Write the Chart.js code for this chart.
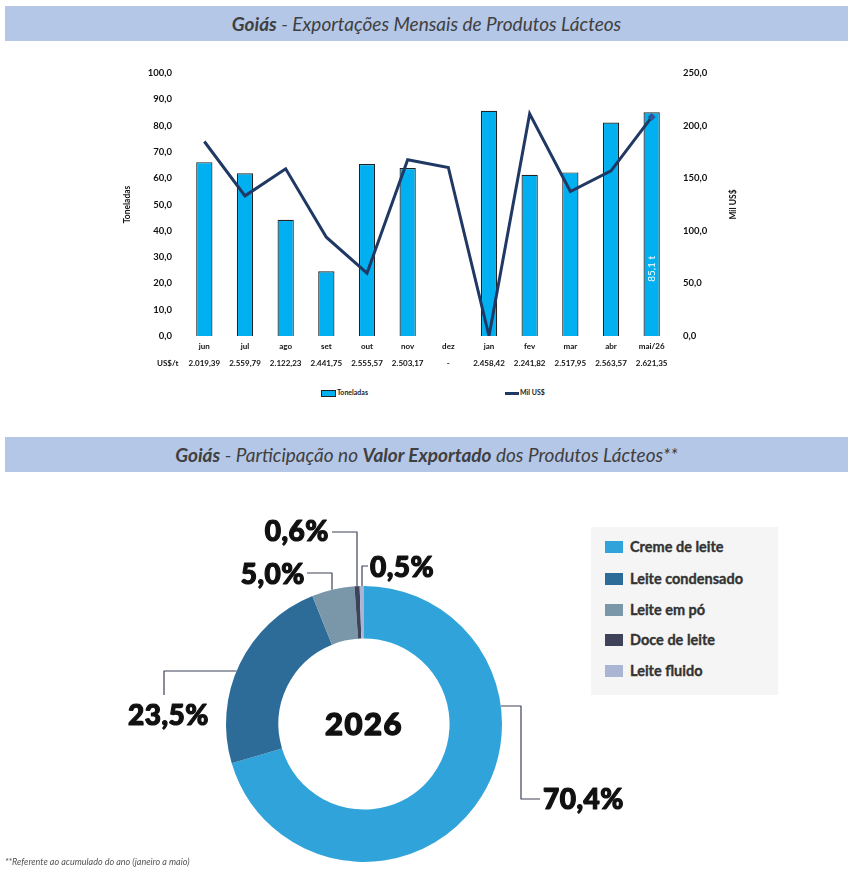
<!DOCTYPE html>
<html>
<head>
<meta charset="utf-8">
<script src="https://cdn.jsdelivr.net/npm/chart.js@4.4.1/dist/chart.umd.min.js"></script>
<style>
  body { margin: 0; background: #fff; width: 852px; height: 871px; position: relative; overflow: hidden; font-family: Lato, sans-serif; }
  .band { position: absolute; left: 5px; width: 843px; height: 35px; background: #b4c7e7; color: #404040;
          font-style: italic; font-size: 19px; line-height: 35px; text-align: center; }
  .band b { font-weight: 700; }
  #bar { position: absolute; left: 100px; top: 55px; }
  #pie { position: absolute; left: 0; top: 480px; }
  .lg { position: absolute; top: 388px; font: bold 7px Lato, sans-serif; color: #222; }
  .lg span { display: inline-block; vertical-align: middle; margin-right: 1px; }
  #legend { position: absolute; left: 591px; top: 527px; width: 187px; height: 168px; background: #f5f5f5; }
  #legend div { position: absolute; left: 14px; font: bold 14.5px Lato, sans-serif; color: #333; height: 16px; line-height: 16px;
                -webkit-text-stroke: 0.35px #333; }
  #legend i { display: inline-block; width: 18px; height: 12px; margin-right: 7px; vertical-align: -1px; }
  .note { position: absolute; left: 5px; top: 856px; font: italic 9px Lato, sans-serif; color: #555; }
</style>
</head>
<body>
<div class="band" style="top:6px"><b>Goiás</b> - Exportações Mensais de Produtos Lácteos</div>
<canvas id="bar" width="680" height="330"></canvas>
<div class="lg" style="left:321px"><span style="width:13px;height:5px;background:#00b0f0;border:1px solid #222"></span>Toneladas</div>
<div class="lg" style="left:505px"><span style="width:14px;height:3px;background:#203864"></span>Mil US$</div>

<div class="band" style="top:437px"><b>Goiás</b> - Participação no <b>Valor Exportado</b> dos Produtos Lácteos**</div>
<canvas id="pie" width="852" height="391"></canvas>
<div id="legend"></div>
<div class="note">**Referente ao acumulado do ano (janeiro a maio)</div>

<script>
// Dados - exportações mensais
const months = ['jun', 'jul', 'ago', 'set', 'out', 'nov', 'dez', 'jan', 'fev', 'mar', 'abr', 'mai/26'];
const pricePerTon = ['2.019,39', '2.559,79', '2.122,23', '2.441,75', '2.555,57', '2.503,17', '-', '2.458,42', '2.241,82', '2.517,95', '2.563,57', '2.621,35'];
const tonnes = [66.1, 61.9, 44.2, 24.6, 65.4, 63.9, null, 85.6, 61.3, 62.2, 81.2, 85.1];
const milUSD = [184.9, 133.2, 158.9, 93.9, 59.7, 167.5, 160.2, 0, 211.3, 137.3, 157.0, 208.1];

// Dados - participação no valor exportado
const products = ['Creme de leite', 'Leite condensado', 'Leite em pó', 'Doce de leite', 'Leite fluido'];
const shares = [70.4, 23.5, 5.0, 0.6, 0.5];
const productColors = ['#30a3da', '#2d6c98', '#7a97aa', '#3e4359', '#aab5d4'];

const fmt = v => v.toFixed(1).replace('.', ',');

// Títulos dos eixos, linha US$/t e rótulo da última barra
const barExtras = {
    id: 'barExtras',
    afterDraw(chart) {
        const ctx = chart.ctx;
        const area = chart.chartArea;
        ctx.save();
        ctx.fillStyle = '#111';
        ctx.font = 'bold 8.5px Lato, sans-serif';
        ctx.textAlign = 'center';
        ctx.textBaseline = 'middle';
        ctx.save();
        ctx.translate(27, (area.top + area.bottom) / 2);
        ctx.rotate(-Math.PI / 2);
        ctx.fillText('Toneladas', 0, 0);
        ctx.restore();
        ctx.save();
        ctx.translate(633, (area.top + area.bottom) / 2);
        ctx.rotate(-Math.PI / 2);
        ctx.fillText('Mil US$', 0, 0);
        ctx.restore();
        ctx.textAlign = 'left';
        ctx.font = 'bold 8px Lato, sans-serif';
        ctx.fillText('US$/t', 57, area.bottom + 27);

        const meta = chart.getDatasetMeta(0);
        const last = meta.data[tonnes.length - 1];
        const y = last.y + (last.base - last.y) * 0.7;
        ctx.translate(last.x, y);
        ctx.rotate(-Math.PI / 2);
        ctx.fillStyle = '#fff';
        ctx.font = '10px Lato, sans-serif';
        ctx.textAlign = 'center';
        ctx.fillText(fmt(tonnes[tonnes.length - 1]) + ' t', 0, 0);
        ctx.restore();
    }
};

new Chart(document.getElementById('bar').getContext('2d'), {
    data: {
        labels: months.map((m, i) => [m, pricePerTon[i]]),
        datasets: [
            {
                type: 'bar',
                label: 'Toneladas',
                data: tonnes,
                backgroundColor: '#00b0f0',
                borderColor: '#222',
                borderWidth: 1.2,
                barPercentage: 0.4,
                categoryPercentage: 1,
                yAxisID: 'y',
                order: 1,
            },
            {
                type: 'line',
                label: 'Mil US$',
                data: milUSD,
                borderColor: '#203864',
                borderWidth: 3,
                tension: 0,
                pointRadius: milUSD.map((v, i) => i === milUSD.length - 1 ? 4 : 0),
                pointStyle: 'rectRot',
                pointBackgroundColor: '#2f5597',
                pointBorderWidth: 0,
                yAxisID: 'y1',
                order: 0,
            }
        ],
    },
    options: {
        responsive: false,
        animation: false,
        layout: { padding: { top: 18, left: 0, right: 0, bottom: 0 } },
        plugins: { legend: { display: false }, tooltip: { enabled: false } },
        scales: {
            x: {
                grid: { display: false, drawTicks: false },
                border: { display: false },
                ticks: { color: '#111', font: { size: 8, weight: 'bold', family: 'Lato', lineHeight: 2.1 }, padding: 2, maxRotation: 0, autoSkip: false },
                afterFit: s => { s.height = 49; },
            },
            y: {
                position: 'left',
                min: 0, max: 100,
                grid: { display: false, drawTicks: false },
                border: { display: false },
                ticks: { stepSize: 10, color: '#111', font: { size: 9.5, weight: 'bold', family: 'Lato' }, padding: 12, callback: v => fmt(v) },
                afterFit: s => { s.width = 84; },
            },
            y1: {
                position: 'right',
                min: 0, max: 250,
                grid: { display: false, drawTicks: false },
                border: { display: false },
                ticks: { stepSize: 50, color: '#111', font: { size: 9.5, weight: 'bold', family: 'Lato' }, padding: 11, callback: v => fmt(v) },
                afterFit: s => { s.width = 108; },
            },
        },
    },
    plugins: [barExtras],
});

// Rótulos com linhas de chamada (coordenadas da página)
const callouts = [
    { start: 'h', at: 706, side: 1, path: [[521, 706], [521, 799], [540, 799]], text: [543, 800, 'left'] },
    { start: 'h', at: 671, side: -1, path: [[164, 671], [164, 695]], text: [128, 716, 'left'] },
    { start: 'v', at: 332, path: [[332, 573], [307, 573]], text: [305, 575, 'right'] },
    { start: 'v', at: 357, path: [[357, 532], [332, 532]], text: [329, 532, 'right'] },
    { start: 'v', at: 362, path: [[362, 566], [368, 566]], text: [370, 568, 'left'] },
];
const pieTop = 480;

const pieExtras = {
    id: 'pieExtras',
    afterDraw(chart) {
        const ctx = chart.ctx;
        const arc = chart.getDatasetMeta(0).data[0];
        const cx = arc.x, cy = arc.y, r = arc.outerRadius;
        ctx.save();
        ctx.fillStyle = '#111';
        ctx.strokeStyle = '#111';
        ctx.lineWidth = 1.4;
        ctx.lineJoin = 'round';
        ctx.font = '900 31px Lato, sans-serif';
        ctx.letterSpacing = '1.5px';
        ctx.textAlign = 'center';
        ctx.textBaseline = 'middle';
        ctx.fillText('2026', cx, cy + 1);
        ctx.strokeText('2026', cx, cy + 1);

        ctx.font = '900 28px Lato, sans-serif';
        ctx.letterSpacing = '0.5px';
        callouts.forEach((c, i) => {
            let sx, sy;
            if (c.start === 'h') {
                sy = c.at - pieTop;
                sx = cx + c.side * Math.sqrt(r * r - (sy - cy) * (sy - cy));
            } else {
                sx = c.at;
                sy = cy - Math.sqrt(r * r - (sx - cx) * (sx - cx));
            }
            ctx.strokeStyle = '#3d4358';
            ctx.lineWidth = 1.2;
            ctx.beginPath();
            ctx.moveTo(sx, sy);
            c.path.forEach(p => ctx.lineTo(p[0], p[1] - pieTop));
            ctx.stroke();
            ctx.textAlign = c.text[2];
            const label = fmt(shares[i]) + '%';
            ctx.fillText(label, c.text[0], c.text[1] - pieTop);
            ctx.strokeStyle = '#111';
            ctx.lineWidth = 1.2;
            ctx.strokeText(label, c.text[0], c.text[1] - pieTop);
        });
        ctx.restore();
    }
};

new Chart(document.getElementById('pie').getContext('2d'), {
    type: 'doughnut',
    data: {
        labels: products,
        datasets: [{ data: shares, backgroundColor: productColors, borderWidth: 0 }],
    },
    options: {
        responsive: false,
        animation: false,
        cutout: '62%',
        layout: { padding: { top: 106, bottom: 9, left: 226, right: 350 } },
        plugins: { legend: { display: false }, tooltip: { enabled: false } },
    },
    plugins: [pieExtras],
});

const legend = document.getElementById('legend');
const legendTops = [12, 44, 75, 105, 136];
products.forEach((p, i) => {
    const d = document.createElement('div');
    d.style.top = legendTops[i] + 'px';
    d.innerHTML = '<i style="background:' + productColors[i] + '"></i>' + p;
    legend.appendChild(d);
});
</script>
</body>
</html>
